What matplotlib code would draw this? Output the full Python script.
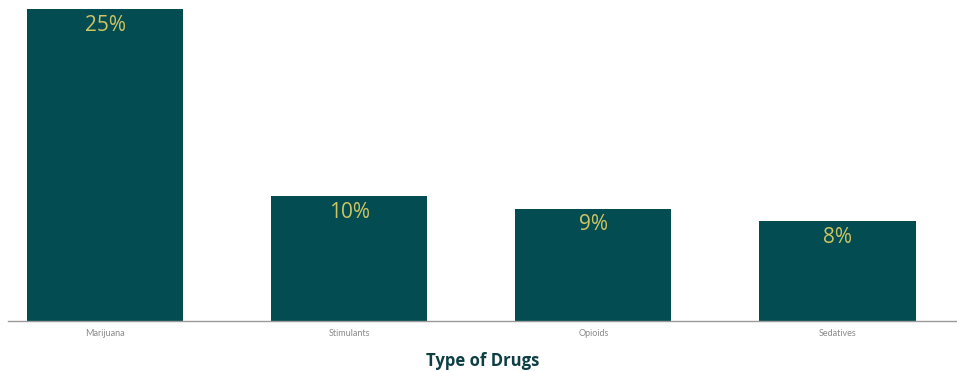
import matplotlib
matplotlib.use("Agg")
import matplotlib.pyplot as plt

# Daten
categories = ["Marijuana", "Stimulants", "Opioids", "Sedatives"]
values = [25, 10, 9, 8]
value_labels = ["25%", "10%", "9%", "8%"]

bar_color = "#034c52"
label_color = "#cdc463"

fig = plt.figure(figsize=(9.57, 3.71), dpi=100)
ax = fig.add_axes([8 / 957, 1 - 321 / 371, 1 - 8 / 957, (321 - 9) / 371])

x = list(range(len(categories)))
bars = ax.bar(x, values, width=0.64, color=bar_color)

for b, lab in zip(bars, value_labels):
    ax.annotate(lab, (b.get_x() + b.get_width() / 2, b.get_height()),
                xytext=(0, -4), textcoords="offset points",
                ha="center", va="top", fontsize=15, color=label_color,
                family="Open Sans")

ax.set_xlim(-0.398, 3.49)
ax.set_ylim(0, 25)
ax.set_xticks(x)
ax.set_xticklabels(categories, fontsize=6.5, color="#8a8a8a", family="Lato")
ax.tick_params(axis="x", length=0, pad=6)
ax.set_yticks([])
for s in ["top", "right", "left"]:
    ax.spines[s].set_visible(False)
ax.spines["bottom"].set_color("#9a9a9a")
ax.spines["bottom"].set_linewidth(1)

ax.set_xlabel("Type of Drugs", fontsize=12, fontweight="bold",
              color="#0e3f45", family="Open Sans", labelpad=10)

fig.savefig("out.png", dpi=100)
